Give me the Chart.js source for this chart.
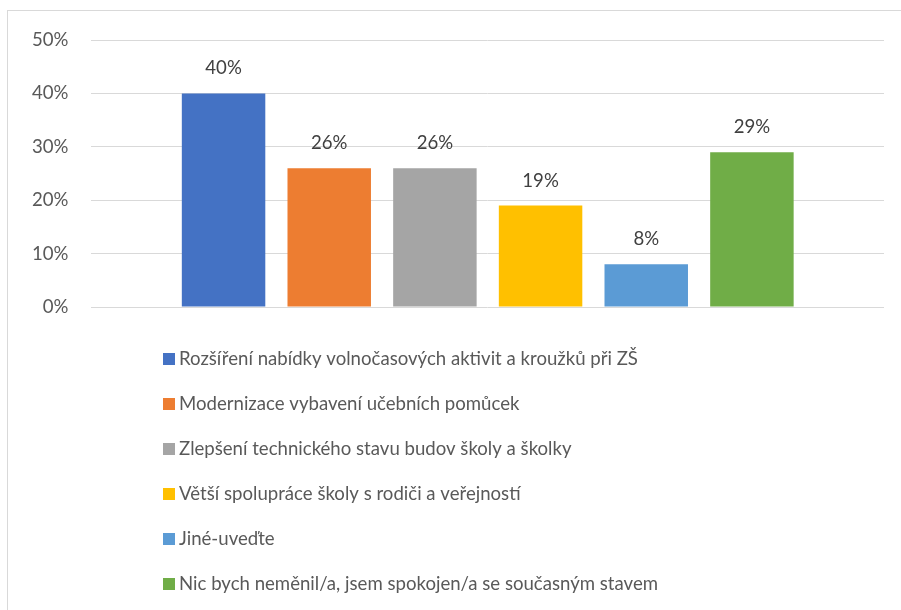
<!DOCTYPE html>
<html>
<head>
<meta charset="utf-8">
<script src="https://cdn.jsdelivr.net/npm/chart.js@4/dist/chart.umd.min.js"></script>
<style>
  html, body { margin: 0; padding: 0; background: #fff; overflow: hidden; }
  #wrap { position: relative; width: 901px; height: 610px; }
  #frame { position: absolute; left: 7px; top: 10px; width: 1000px; height: 1000px; border: 1px solid #d9d9d9; }
  canvas { position: absolute; left: 0; top: 0; }
</style>
</head>
<body>
<div id="wrap">
  <div id="frame"></div>
  <canvas id="chart" width="901" height="610"></canvas>
</div>
<script>
// series names (one bar each)
let names = [
  "Rozšíření nabídky volnočasových aktivit a kroužků při ZŠ",
  "Modernizace vybavení učebních pomůcek",
  "Zlepšení technického stavu budov školy a školky",
  "Větší spolupráce školy s rodiči a veřejností",
  "Jiné-uveďte",
  "Nic bych neměnil/a, jsem spokojen/a se současným stavem"
];
let values = [40, 26, 26, 19, 8, 29];
let colors = ["#4472C4", "#ED7D31", "#A5A5A5", "#FFC000", "#5B9BD5", "#70AD47"];
let categories = [""];

const FONT = "Lato, 'Open Sans', sans-serif";
const FSIZE = 18.6;

let datasets = names.map((n, i) => ({
  label: n,
  data: [values[i]],
  backgroundColor: colors[i],
  borderWidth: 0,
  categoryPercentage: 0.8,
  barPercentage: 0.79
}));

// value labels over bars
const valueLabels = {
  id: "valueLabels",
  afterDatasetsDraw(chart) {
    const ctx = chart.ctx;
    ctx.save();
    ctx.font = FSIZE + "px " + FONT;
    ctx.fillStyle = "#404040";
    ctx.textAlign = "center";
    ctx.textBaseline = "middle";
    chart.data.datasets.forEach((ds, i) => {
      const bar = chart.getDatasetMeta(i).data[0];
      ctx.fillText(ds.data[0] + "%", bar.x, bar.y - 25);
    });
    ctx.restore();
  }
};

// legend, one item per line below the plot
const listLegend = {
  id: "listLegend",
  afterDraw(chart) {
    const ctx = chart.ctx;
    const top = chart.chartArea.bottom + 52;
    ctx.save();
    ctx.font = FSIZE + "px " + FONT;
    ctx.textBaseline = "middle";
    chart.data.datasets.forEach((ds, i) => {
      const y = top + i * 45;
      ctx.fillStyle = ds.backgroundColor;
      ctx.fillRect(163, y - 6, 12, 12);
      ctx.fillStyle = "#595959";
      ctx.fillText(ds.label, 179, y);
    });
    ctx.restore();
  }
};

let ctx = document.getElementById("chart").getContext("2d");
new Chart(ctx, {
  type: "bar",
  data: { labels: categories, datasets: datasets },
  plugins: [valueLabels, listLegend],
  options: {
    responsive: false,
    animation: false,
    layout: { padding: { left: 9, right: 17, top: 40, bottom: 303 } },
    plugins: {
      legend: { display: false },
      tooltip: { enabled: false }
    },
    scales: {
      x: { display: false },
      y: {
        min: 0,
        max: 50,
        ticks: {
          stepSize: 10,
          padding: 23,
          color: "#595959",
          font: { size: FSIZE, family: FONT },
          callback: v => v + "%"
        },
        grid: { color: "#d9d9d9", lineWidth: 1, drawTicks: false },
        border: { display: false }
      }
    }
  }
});
</script>
</body>
</html>
